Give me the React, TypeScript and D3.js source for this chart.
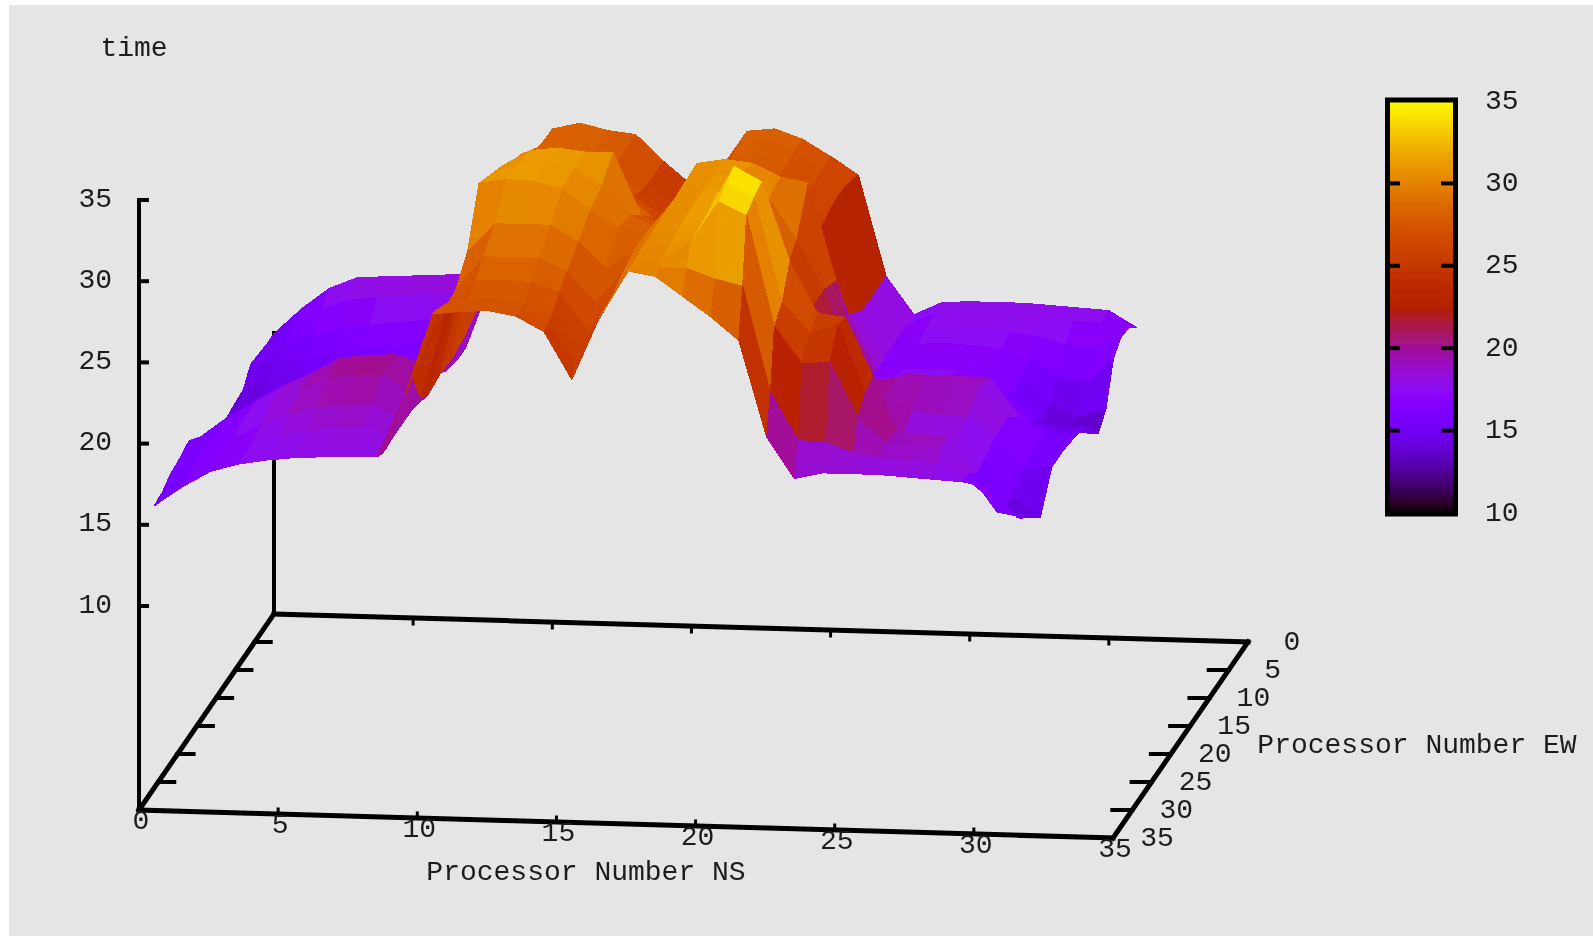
import React from "react";
import * as d3 from "d3";

// Grid rows along the EW axis (ew value of each entry in the ns lists below)
const ewRows = [0, 2, 4, 6, 8, 10, 13, 16, 19, 22, 25, 27, 29, 30, 31];

// time over ewRows, one list per NS processor number
const ns00 = [14.7,14.7,14.8,14.9,14.0,13.9,13.7,13.8,14.9,15.7,15.4,15.3,14.9,14.9,14.8];
const ns01 = [16.3,16,15.5,15,14.8,14.6,14.8,15.5,16.2,16.3,16.2,16.3,16.2,16.1,16];
const ns02 = [17.6,17,16,15.3,15,14.8,15.2,16.3,17.2,17.2,17,17,17,17,17];
const ns03 = [18.3,17.6,16.6,15.8,15.3,15.2,15.8,17,18.2,18.2,17.8,17.5,17.4,17.4,17.5];
const ns04 = [18.4,17.8,16.8,16,15.6,15.5,16.2,17.8,19,19,18.5,17.9,17.7,17.6,17.8];
const ns05 = [18.5,18,17,16.2,15.8,15.8,16.3,18.3,20,19.8,19,18.2,17.9,17.8,18];
const ns06 = [18.6,18.1,17.2,16.4,16,16,16.5,18.5,20.2,20,19.2,18.5,18.1,18,18.1];
const ns07 = [18.7,18.2,17.3,16.5,16.1,16.1,16.6,18.6,20.3,20.1,19.3,18.6,18.2,18.1,18.2];
const ns08 = [20,19.5,18.5,17.6,17,17,17.3,18.7,19.8,18.8,18.4,18,17.9,18,18.2];
const ns09 = [25,24,23,22,21.5,21,20.8,20.3,20.1,20.2,20,20.5,22.5,22.3,22];
const ns10 = [27.8,27.8,28,28.5,29,29.2,30,30.5,31,27.8,26.5,26.4,26.8,27,27.1];
const ns11 = [28.2,28.3,28.3,28.4,28.8,29.2,31,31.2,31.3,29.6,28.6,27.8,27.3,27.3,27.3];
const ns12 = [27.8,27.8,27.8,28,28.4,29,31.2,31.2,31.2,29.6,28.6,27.9,27.4,27.4,27.4];
const ns13 = [27.6,27.6,27.5,27.5,28,28.8,31,31,30.8,29.6,28.6,27.8,27.2,27.1,27.1];
const ns14 = [26,26,26,26.2,26.6,27.5,31,30,29.5,28.6,27.8,27.2,26.5,26.3,26.2];
const ns15 = [24.6,24.4,24.6,25,25.5,26,27.2,28.2,28.5,27,26,25,24.6,24.2,23.3];
const ns16 = [25.5,25.5,25.3,25.2,25,25.5,26.5,27.5,28.2,28.2,27.8,27.5,27.3,27.2,27.2];
const ns17 = [28,28,27.8,27.5,27.5,28,30.5,30.4,30.3,30.3,30.2,30.2,30.1,30.1,30.1];
const ns18 = [28.2,28.2,28,27.8,27.6,28.2,30.8,30.8,30.8,30.8,30.6,30.4,30.2,30,29.8];
const ns19 = [27.6,27.6,27.5,27.3,27.2,27.6,30.6,31,31.4,32,31.5,31.4,31.3,30,28.6];
const ns20 = [26.6,26.5,26.4,26.4,26.4,26.5,29.8,29.5,29.3,30,34.6,34.2,33.8,29.4,27.4];
const ns21 = [25.5,25.8,26,26,25.8,25.5,29.5,27,26,26.8,33.7,33.4,33,29,26];
const ns22 = [19.3,19.3,19.3,19.3,19.8,20.5,23.5,24,24,25,28.8,27,26.2,22.5,20.1];
const ns23 = [17,17,17,17,16.9,17,17.6,18.5,20,23,25.7,25.2,24,19.6,17.6];
const ns24 = [17.8,17.8,17.5,17.3,17.1,17.1,17.6,18.3,19.6,21,25.5,25.7,24.1,19.5,18];
const ns25 = [17.9,17.9,17.6,17.4,17.2,17.2,17.6,19,19.7,19.6,21.9,21.6,20.8,18.9,18];
const ns26 = [17.9,17.9,17.6,17.3,17.1,17.1,17.6,18.9,19.6,18.8,18,19.2,19.2,18.6,18];
const ns27 = [17.9,17.9,17.5,17.1,16.8,16.8,17.4,18.9,19.6,18.6,18,19.2,19.1,18.5,17.9];
const ns28 = [17.8,17.8,17.3,16.6,16.2,16,17,18.8,19.4,18.5,17.8,19,19,18.4,17.8];
const ns29 = [17.7,17.6,16.8,15.6,14.6,14.4,15.2,16.5,17.5,17.4,17,16.8,17.5,17.6,17.7];
const ns30 = [17.6,17.5,16.6,15.2,13.8,13.6,14.6,15.5,16,15.5,14.8,14.6,15.2,16.2,17.4];
const ns31 = [16.6,17.3,17.4,16.8,14.3,13.5,15,15.4,15.6,15.6,13.5,14.2,14.9,15.2,15.6];
const timeByNs = [ns00,ns01,ns02,ns03,ns04,ns05,ns06,ns07,ns08,ns09,ns10,ns11,ns12,ns13,ns14,ns15,
  ns16,ns17,ns18,ns19,ns20,ns21,ns22,ns23,ns24,ns25,ns26,ns27,ns28,ns29,ns30,ns31];

const planeTicks = [0, 5, 10, 15, 20, 25, 30, 35];
const timeTicks = [10, 15, 20, 25, 30, 35];

// gnuplot's default pm3d palette: rgbformulae 7,5,15
const palette = (t: number) => {
  const x = Math.max(0, Math.min(1, (t - 10) / 25));
  return d3.rgb(255 * Math.sqrt(x), 255 * x * x * x, 255 * Math.max(0, Math.sin(2 * Math.PI * x))).formatHex();
};

// 3D projection, each axis being a scale
const nsX = d3.scaleLinear().domain([0, 35]).range([139, 1113]);
const nsY = d3.scaleLinear().domain([0, 35]).range([810, 838]);
const ewX = d3.scaleLinear().domain([0, 35]).range([135, 0]);
const ewY = d3.scaleLinear().domain([0, 35]).range([-196, 0]);
const timeY = d3.scaleLinear().domain([10, 35]).range([-204, -610]);
const floor = (ns: number, ew: number): [number, number] => [nsX(ns) + ewX(ew), nsY(ns) + ewY(ew)];
const project = (ns: number, ew: number, t: number): [number, number] => {
  const [x, y] = floor(ns, ew);
  return [x, y + timeY(t)];
};
const barY = d3.scaleLinear().domain([10, 35]).range([513, 101]);

type Cell = { key: string; d: string; fill: string; depth: number };
const cells: Cell[] = [];
const outline = d3.line();
timeByNs.slice(0, -1).forEach((col, i) => {
  ewRows.slice(0, -1).forEach((ew, j) => {
    const ew2 = ewRows[j + 1];
    const next = timeByNs[i + 1];
    const corners: [number, number, number][] = [
      [i, ew, col[j]], [i + 1, ew, next[j]], [i + 1, ew2, next[j + 1]], [i, ew2, col[j + 1]],
    ];
    const mean = d3.mean(corners, (c) => c[2]) as number;
    cells.push({
      key: `${i}-${j}`,
      d: (outline(corners.map((c) => project(c[0], c[1], c[2]))) as string) + "Z",
      fill: palette(mean),
      depth: floor(i + 0.5, (ew + ew2) / 2)[1],
    });
  });
});
cells.sort((a, b) => d3.ascending(a.depth, b.depth));

const FONT = "'Liberation Mono', 'DejaVu Sans Mono', monospace";
const INK = "#1c1c1c";

const Label = ({ x, y, anchor = "middle", children }: any) => (
  <text x={x} y={y} textAnchor={anchor} dominantBaseline="central" fontFamily={FONT} fontSize={28} fill={INK}>
    {children}
  </text>
);

export default function App() {
  const seg = (a: [number, number], b: [number, number], w: number, key: string) => (
    <line key={key} x1={a[0]} y1={a[1]} x2={b[0]} y2={b[1]} stroke="#000" strokeWidth={w} strokeLinecap="square" />
  );
  return (
    <svg width={1593} height={936} style={{ position: "absolute", left: 0, top: 0, background: "#fff" }}>
      <defs>
        <linearGradient id="bar" x1="0" y1="1" x2="0" y2="0">
          {d3.range(0, 51).map((k) => (
            <stop key={k} offset={k / 50} stopColor={palette(10 + k / 2)} />
          ))}
        </linearGradient>
        <filter id="soft" x="0" y="0" width="1593" height="936" filterUnits="userSpaceOnUse">
          <feGaussianBlur stdDeviation={0.7} />
        </filter>
      </defs>
      <rect x={9} y={5} width={1584} height={931} fill="#e5e5e5" />
      <g filter="url(#soft)">
        {/* back vertical axis, behind the surface */}
        {seg(floor(0, 0), [floor(0, 0)[0], 333], 4, "backz")}
        {/* floor */}
        {seg(floor(0, 35), floor(35, 35), 5, "front")}
        {seg(floor(0, 0), floor(35, 0), 5, "back")}
        {seg(floor(0, 35), floor(0, 0), 5, "left")}
        {seg(floor(35, 35), floor(35, 0), 5, "right")}
        {/* vertical axis */}
        {seg([139, 810], project(0, 35, 35), 4, "z")}
        {timeTicks.map((t) => {
          const p = project(0, 35, t);
          return seg(p, [p[0] + 8, p[1]], 4, `zt${t}`);
        })}
        {/* ticks on the floor */}
        {planeTicks.slice(1, -1).map((v) => (
          <g key={`t${v}`}>
            {seg(floor(v, 35), [floor(v, 35)[0], floor(v, 35)[1] - 5], 3, `a${v}`)}
            {seg(floor(v, 0), [floor(v, 0)[0], floor(v, 0)[1] + 6], 3, `b${v}`)}
            {seg(floor(0, v), [floor(0, v)[0] + 16, floor(0, v)[1]], 4, `c${v}`)}
            {seg(floor(35, v), [floor(35, v)[0] - 20, floor(35, v)[1]], 4, `e${v}`)}
          </g>
        ))}
        {/* surface */}
        {cells.map((c) => (
          <path key={c.key} d={c.d} fill={c.fill} stroke={c.fill} strokeWidth={1} strokeLinejoin="round" shapeRendering="crispEdges" />
        ))}
        {/* text */}
        <Label x={134} y={48}>time</Label>
        {timeTicks.map((t) => (
          <Label key={`zl${t}`} x={112} y={project(0, 35, t)[1] - 1} anchor="end">{t}</Label>
        ))}
        {planeTicks.map((v) => (
          <Label key={`nl${v}`} x={floor(v, 35)[0] + 2} y={floor(v, 35)[1] + 11}>{v}</Label>
        ))}
        {planeTicks.map((v) => (
          <Label key={`el${v}`} x={floor(35, v)[0] + 44} y={floor(35, v)[1]}>{v}</Label>
        ))}
        <Label x={586} y={872}>Processor Number NS</Label>
        <Label x={1417} y={745}>Processor Number EW</Label>
        {/* colour box */}
        <rect x={1387.5} y={100} width={68} height={414} fill="url(#bar)" stroke="#000" strokeWidth={5} />
        {[15, 20, 25, 30].map((t) => (
          <g key={`bt${t}`}>
            {seg([1390, barY(t)], [1398, barY(t)], 4, `bl${t}`)}
            {seg([1443, barY(t)], [1453, barY(t)], 4, `br${t}`)}
          </g>
        ))}
        {timeTicks.map((t) => (
          <Label key={`bl${t}`} x={1485} y={barY(t)} anchor="start">{t}</Label>
        ))}
      </g>
    </svg>
  );
}
